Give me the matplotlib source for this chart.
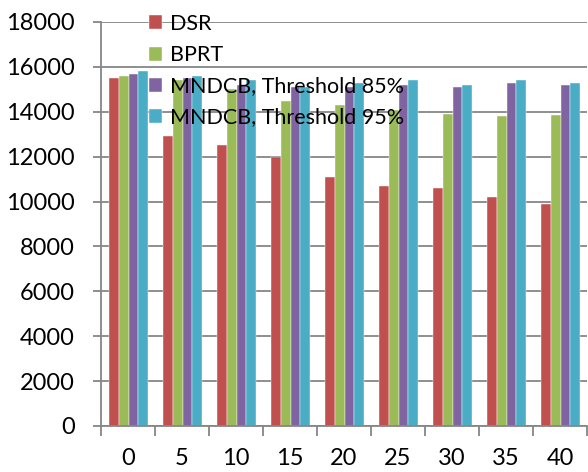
import numpy as np
import matplotlib
matplotlib.use("Agg")
import matplotlib.pyplot as plt

# valores por intervalo
categorias = ["0", "5", "10", "15", "20", "25", "30", "35", "40"]
dsr = [15500, 12900, 12500, 12000, 11100, 10700, 10600, 10200, 9900]
bprt = [15600, 15400, 15000, 14500, 14300, 14100, 13900, 13800, 13850]
mndcb_85 = [15700, 15500, 15200, 15100, 15100, 15200, 15100, 15300, 15200]
mndcb_95 = [15800, 15600, 15400, 15100, 15300, 15400, 15200, 15400, 15300]

nomes = ["DSR", "BPRT", "MNDCB, Threshold 85%", "MNDCB, Threshold 95%"]
cores = ["#C0504D", "#9BBB59", "#8064A2", "#4BACC6"]

plt.rcParams['font.family'] = ['Lato', 'DejaVu Sans']

fig = plt.figure(figsize=(5.88, 4.72), dpi=100)
ax = fig.add_axes([101/588, 1-426/472, 486/588, 404/472])

x = np.arange(len(categorias))
largura = 0.18
series = [dsr, bprt, mndcb_85, mndcb_95]
for k in range(4):
    ax.bar(x + (k - 1.5)*largura + 0.01, series[k], largura, color=cores[k],
           edgecolor="white", linewidth=0.3, label=nomes[k], zorder=2)

ax.set_xlim(-0.5, len(categorias) - 0.5)
ax.set_ylim(0, 18000)
ax.set_yticks(range(0, 18001, 2000))
ax.set_xticks(x)
ax.set_xticklabels(categorias)
ax.set_xticks(np.arange(-0.5, len(categorias), 1), minor=True)

cinza = "#868686"
ax.grid(axis='y', color=cinza, linewidth=1.3, zorder=0)
ax.set_axisbelow(True)
for lado in ["top", "right"]:
    ax.spines[lado].set_visible(False)
for lado in ["left", "bottom"]:
    ax.spines[lado].set_color(cinza)
    ax.spines[lado].set_linewidth(1.3)

ax.tick_params(axis='y', labelsize=17, length=6, width=1.3, color=cinza, pad=13)
ax.tick_params(axis='x', which='major', labelsize=17, length=0, pad=16)
ax.tick_params(axis='x', which='minor', length=7, width=1.3, color=cinza)

leg = ax.legend(loc='upper left', bbox_to_anchor=(48/486, 1 + 8/404), frameon=False,
                fontsize=15.5, handlelength=0.62, handleheight=0.62,
                handletextpad=0.35, labelspacing=0.52, borderpad=0, borderaxespad=0)
leg.set_zorder(5)

plt.savefig("out.png", dpi=100)
